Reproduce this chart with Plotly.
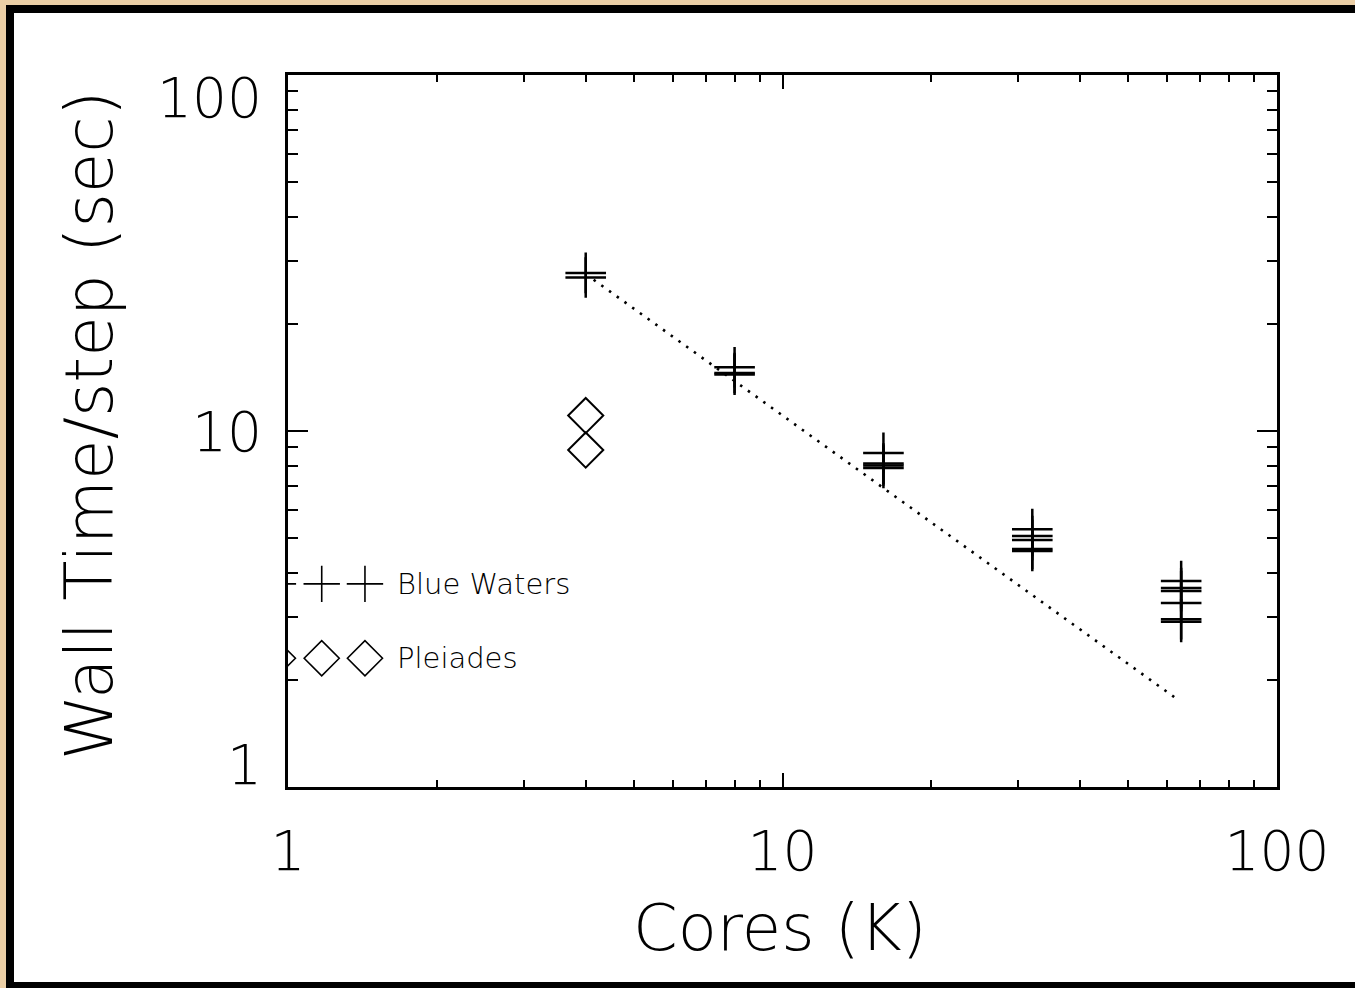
import math
import plotly.graph_objects as go

# ---- data ----
bw_cores = [4, 4, 8, 8, 8, 16, 16, 16, 16, 32, 32, 32, 32, 32, 64, 64, 64, 64, 64, 64]
bw_time = [27.8, 27.0, 15.1, 14.55, 14.4, 8.68, 8.1, 8.0, 7.87,
           5.30, 5.07, 4.94, 4.66, 4.60, 3.79, 3.62, 3.55, 3.29, 2.96, 2.91]
pl_cores = [4, 4]
pl_time = [11.05, 8.84]
ideal_cores = [4.15, 63]
ideal_time = [26.6, 1.76]
tick_vals = [1, 10, 100]
tick_text = ["1", "10", "100"]
legend_names = ["Blue Waters", "Pleiades"]

# legend glyph placement (layout constants)
leg_sym_x = [0.954, 1.170, 1.431]
leg_y = [3.72, 2.30]
# vertical nudge of y tick labels (IDL keeps them inside the axis span)
ylab_shift = [22, -1, -23]

W, H = 1355, 988
L, R, T, B = 288, 1277, 75, 787
FONT = "DejaVu Sans"
TAN = "#ebcfa6"


def px(x):
    return (x - L) / (R - L)


def py(y):
    return (B - y) / (B - T)


fig = go.Figure()

fig.add_trace(go.Scatter(
    x=ideal_cores, y=ideal_time, mode="lines",
    line=dict(color="black", width=2.6, dash="2.5px,7px"),
    showlegend=False, hoverinfo="skip"))

fig.add_trace(go.Scatter(
    x=bw_cores, y=bw_time, mode="markers",
    marker=dict(symbol="cross-thin", size=29, color="black",
                line=dict(color="black", width=2.5)),
    showlegend=False))

fig.add_trace(go.Scatter(
    x=pl_cores, y=pl_time, mode="markers",
    marker=dict(symbol="diamond-open", size=27, color="black",
                line=dict(color="black", width=2)),
    showlegend=False))

# legend glyphs
fig.add_trace(go.Scatter(
    x=leg_sym_x, y=[leg_y[0]] * 3, mode="markers", cliponaxis=True,
    marker=dict(symbol="cross-thin", size=26, color="black",
                line=dict(color="black", width=1.6)),
    showlegend=False, hoverinfo="skip"))
fig.add_trace(go.Scatter(
    x=leg_sym_x, y=[leg_y[1]] * 3, mode="markers", cliponaxis=True,
    marker=dict(symbol="diamond-open", size=27, color="black",
                line=dict(color="black", width=1.6)),
    showlegend=False, hoverinfo="skip"))

for name, yv in zip(legend_names, leg_y):
    fig.add_annotation(x=px(395), y=(math.log10(yv)) / 2, xref="paper", yref="paper",
                       text=name, showarrow=False, xanchor="left", yanchor="middle",
                       font=dict(family=FONT, size=29, color="black", weight=300))

# y tick labels
for v, t, s in zip(tick_vals, tick_text, ylab_shift):
    fig.add_annotation(x=px(264), y=math.log10(v), xref="paper", yref="y",
                       text=t, showarrow=False, xanchor="right", yanchor="middle",
                       yshift=s,
                       font=dict(family=FONT, size=55, color="black", weight=300))

# frame: tan background, black border, white page
fig.add_shape(type="rect", xref="paper", yref="paper",
              x0=px(6), x1=px(W + 20), y0=py(5), y1=py(H + 20),
              fillcolor="black", line=dict(width=0), layer="below")
fig.add_shape(type="rect", xref="paper", yref="paper",
              x0=px(14), x1=px(W + 20), y0=py(13), y1=py(982),
              fillcolor="white", line=dict(width=0), layer="below")

axis_common = dict(
    type="log", range=[0, 2], tickvals=tick_vals, ticktext=tick_text,
    showgrid=False, zeroline=False, showline=True, linecolor="black", linewidth=2.5,
    mirror="ticks", ticks="inside", tickcolor="black", tickwidth=2,
    tickfont=dict(family=FONT, size=55, color="black", weight=300),
)

fig.update_xaxes(**axis_common, ticklen=14, ticklabelstandoff=14,
                 minor=dict(ticks="inside", ticklen=7, tickwidth=2, tickcolor="black",
                            dtick="D1", showgrid=False))
fig.update_yaxes(**axis_common, ticklen=20, showticklabels=False,
                 minor=dict(ticks="inside", ticklen=10, tickwidth=2, tickcolor="black",
                            dtick="D1", showgrid=False))

fig.add_annotation(x=px(780), y=py(928), xref="paper", yref="paper", text="Cores (K)",
                   showarrow=False, xanchor="center", yanchor="middle",
                   font=dict(family=FONT, size=64, color="black", weight=300))
fig.add_annotation(x=px(90), y=py(426), xref="paper", yref="paper",
                   text="Wall Time/step (sec)", textangle=-90,
                   showarrow=False, xanchor="center", yanchor="middle",
                   font=dict(family=FONT, size=66, color="black", weight=300))

fig.update_layout(
    width=W, height=H,
    margin=dict(l=L, r=W - R, t=T, b=H - B, pad=0),
    paper_bgcolor=TAN, plot_bgcolor="white",
    showlegend=False,
)

fig.write_html(
    "out.html",
    config={"displayModeBar": False},
    post_script="document.body.style.margin='0';document.body.style.background='%s';" % TAN,
)
